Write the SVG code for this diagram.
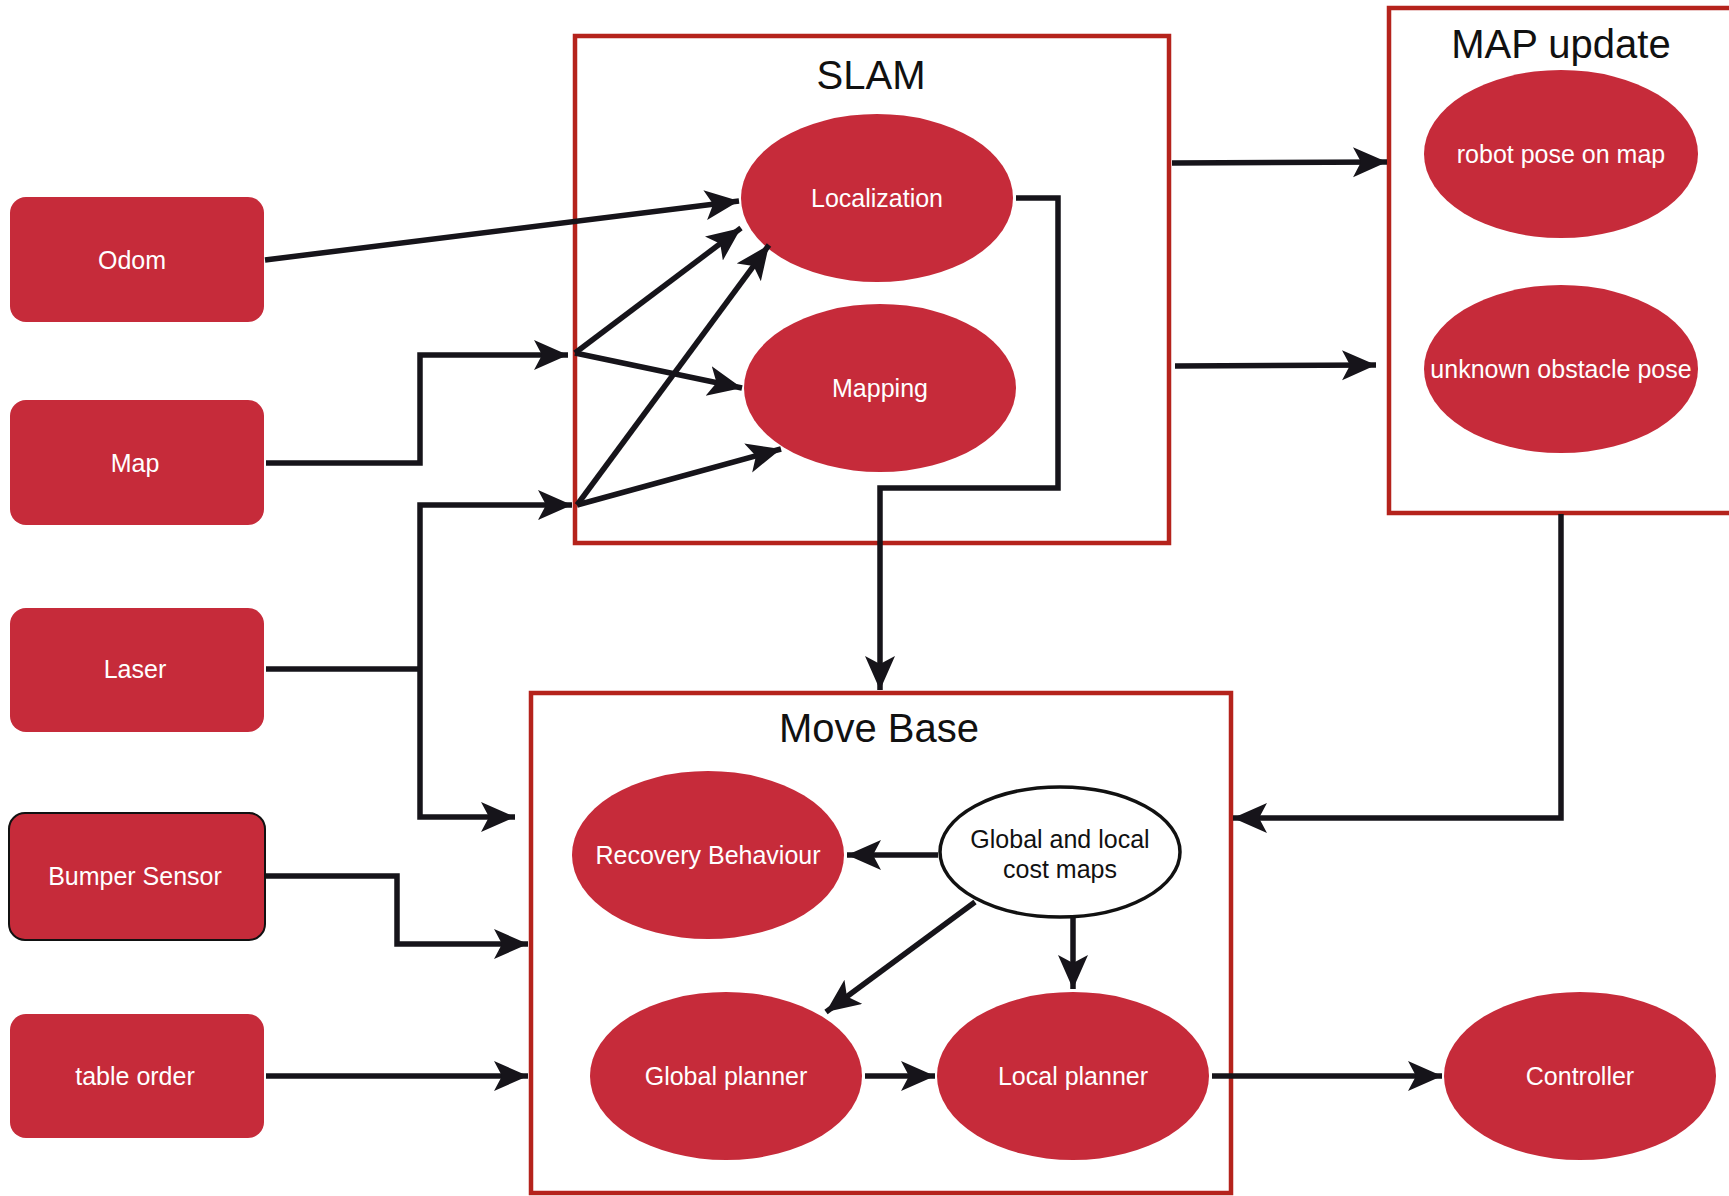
<svg xmlns="http://www.w3.org/2000/svg" width="1729" height="1196" viewBox="0 0 1729 1196">
<style>
.box{fill:#c62b3a;}
.grp{fill:#ffffff;stroke:#b5231c;stroke-width:4.5;}
.ell{fill:#c62b3a;}
.wt{fill:#ffffff;font-family:"Liberation Sans",Arial,Helvetica,sans-serif;font-size:25px;text-anchor:middle;}
.bt{fill:#111111;font-family:"Liberation Sans",Arial,Helvetica,sans-serif;font-size:25px;text-anchor:middle;}
.title{fill:#111111;font-family:"Liberation Sans",Arial,Helvetica,sans-serif;font-size:40px;text-anchor:middle;}
.c{fill:none;stroke:#16141a;stroke-width:5.5;marker-end:url(#arr);}
.cn{fill:none;stroke:#16141a;stroke-width:5.5;}
</style>
<defs>
<marker id="arr" markerUnits="userSpaceOnUse" markerWidth="36" markerHeight="32" refX="34" refY="15" orient="auto">
<path d="M0,0 L34,15 L0,30 L8,15 Z" fill="#16141a"/>
</marker>
</defs>
<rect width="1729" height="1196" fill="#ffffff"/>

<g id="slam">
<rect class="grp" x="575" y="36" width="594" height="507"/>
<text class="title" x="871" y="89">SLAM</text>
</g>
<g id="mapupdate">
<rect class="grp" x="1389" y="8" width="345" height="505"/>
<text class="title" x="1561" y="58">MAP update</text>
</g>
<g id="movebase">
<rect class="grp" x="531" y="693" width="700" height="500"/>
<text class="title" x="879" y="742">Move Base</text>
</g>

<g id="odom"><rect class="box" x="10" y="197" width="254" height="125" rx="16"/><text class="wt" x="132" y="269">Odom</text></g>
<g id="map"><rect class="box" x="10" y="400" width="254" height="125" rx="16"/><text class="wt" x="135" y="472">Map</text></g>
<g id="laser"><rect class="box" x="10" y="608" width="254" height="124" rx="16"/><text class="wt" x="135" y="678">Laser</text></g>
<g id="bumper"><rect class="box" x="9" y="813" width="256" height="127" rx="16" stroke="#111" stroke-width="2"/><text class="wt" x="135" y="885">Bumper Sensor</text></g>
<g id="tableorder"><rect class="box" x="10" y="1014" width="254" height="124" rx="16"/><text class="wt" x="135" y="1085">table order</text></g>

<g id="localization"><ellipse class="ell" cx="877" cy="198" rx="136" ry="84"/><text class="wt" x="877" y="207">Localization</text></g>
<g id="mapping"><ellipse class="ell" cx="880" cy="388" rx="136" ry="84"/><text class="wt" x="880" y="397">Mapping</text></g>
<g id="robotpose"><ellipse class="ell" cx="1561" cy="154" rx="137" ry="84"/><text class="wt" x="1561" y="163">robot pose on map</text></g>
<g id="obstacle"><ellipse class="ell" cx="1561" cy="369" rx="137" ry="84"/><text class="wt" x="1561" y="378">unknown obstacle pose</text></g>
<g id="recovery"><ellipse class="ell" cx="708" cy="855" rx="136" ry="84"/><text class="wt" x="708" y="864">Recovery Behaviour</text></g>
<g id="costmaps"><ellipse cx="1060" cy="852" rx="120" ry="65" fill="#ffffff" stroke="#111" stroke-width="3.5"/><text class="bt" x="1060" y="848">Global and local</text><text class="bt" x="1060" y="878">cost maps</text></g>
<g id="globalplanner"><ellipse class="ell" cx="726" cy="1076" rx="136" ry="84"/><text class="wt" x="726" y="1085">Global planner</text></g>
<g id="localplanner"><ellipse class="ell" cx="1073" cy="1076" rx="136" ry="84"/><text class="wt" x="1073" y="1085">Local planner</text></g>
<g id="controller"><ellipse class="ell" cx="1580" cy="1076" rx="136" ry="84"/><text class="wt" x="1580" y="1085">Controller</text></g>

<g id="connectors">
<path class="c" d="M265,260 L739,201"/>
<path class="c" d="M266,463 L420,463 L420,355 L568,355"/>
<path class="c" d="M575,353 L741,228"/>
<path class="c" d="M575,353 L742,388"/>
<path class="cn" d="M266,669 L420,669"/>
<path class="c" d="M420,669 L420,505 L572,505"/>
<path class="c" d="M420,669 L420,817 L515,817"/>
<path class="c" d="M577,505 L769,245"/>
<path class="c" d="M577,505 L781,449"/>
<path class="c" d="M266,876 L397,876 L397,944 L528,944"/>
<path class="c" d="M266,1076 L528,1076"/>
<path class="c" d="M1016,198 L1058,198 L1058,488 L880,488 L880,690"/>
<path class="c" d="M1172,163 L1387,162"/>
<path class="c" d="M1175,366 L1376,365"/>
<path class="c" d="M1561,514 L1561,818 L1233,818"/>
<path class="c" d="M938,855 L847,855"/>
<path class="c" d="M975,902 L826,1012"/>
<path class="c" d="M1073,918 L1073,989"/>
<path class="c" d="M865,1076 L935,1076"/>
<path class="c" d="M1212,1076 L1442,1076"/>
</g>
</svg>
